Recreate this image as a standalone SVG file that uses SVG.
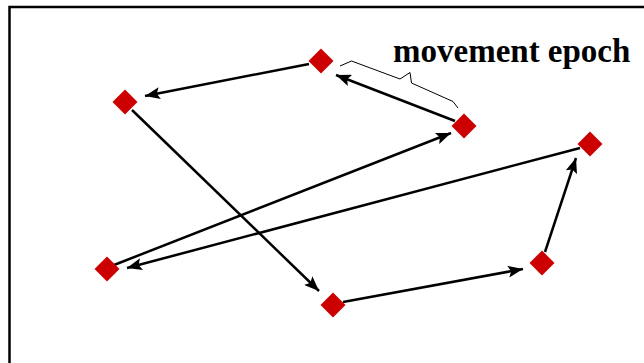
<svg xmlns="http://www.w3.org/2000/svg" width="644" height="363" viewBox="0 0 644 363">
<defs>
<style>
.node{fill:#CC0000;stroke:none}
.edge{stroke:#000;stroke-width:2.5;fill:none;marker-end:url(#arr)}
.brace{stroke:#000;stroke-width:1;fill:none}
.lbl{font-family:"Liberation Serif",serif;font-weight:bold;font-size:33px;fill:#000}
</style>
<marker id="arr" markerUnits="userSpaceOnUse" markerWidth="16" markerHeight="12" refX="15" refY="6" orient="auto">
<path d="M0,0 L15,6 L0,12 L3,6 z" fill="#000"/>
</marker>
<path id="dia" d="M0,-12.5 L12.5,0 L0,12.5 L-12.5,0 z"/>
</defs>
<rect x="9.5" y="7" width="700" height="400" fill="#fff" stroke="#000" stroke-width="2.5"/>
<g id="connectors">
<line class="edge" x1="309" y1="64" x2="145" y2="96"/>
<line class="edge" x1="132" y1="110" x2="319" y2="291"/>
<line class="edge" x1="455" y1="121" x2="336" y2="75"/>
<line class="edge" x1="114" y1="265" x2="451" y2="133"/>
<line class="edge" x1="580" y1="148" x2="127" y2="268"/>
<line class="edge" x1="343" y1="302" x2="523" y2="269"/>
<line class="edge" x1="545" y1="252" x2="576" y2="158"/>
</g>
<g id="nA"><use href="#dia" class="node" x="321" y="61"/></g>
<g id="nB"><use href="#dia" class="node" x="125" y="102"/></g>
<g id="nC"><use href="#dia" class="node" x="464" y="126"/></g>
<g id="nD"><use href="#dia" class="node" x="590" y="144"/></g>
<g id="nE"><use href="#dia" class="node" x="107" y="269"/></g>
<g id="nF"><use href="#dia" class="node" x="333" y="305"/></g>
<g id="nG"><use href="#dia" class="node" x="542" y="263"/></g>
<g id="label">
<polyline class="brace" points="340,66 351.5,61 400,79 410,72.5 411.5,83 453,101.5 458,108"/>
<text class="lbl" x="393" y="62">movement epoch</text>
</g>
</svg>
